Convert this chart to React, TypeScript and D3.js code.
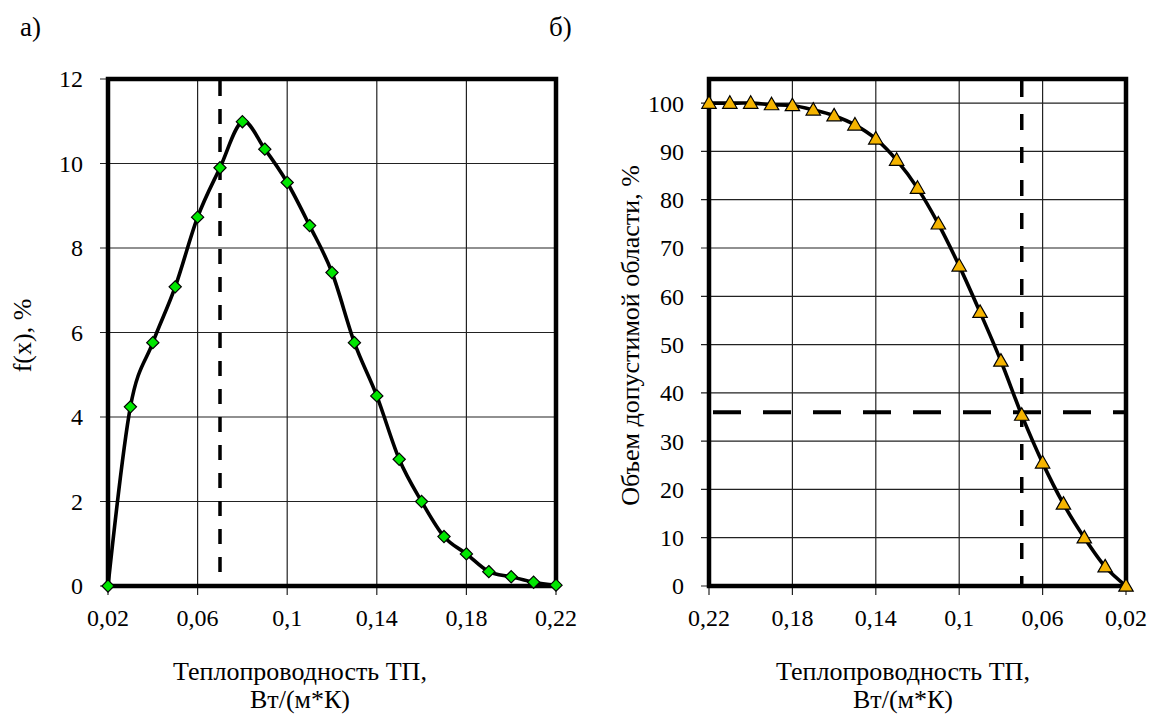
import { useRef, useEffect } from 'react'
import * as d3 from 'd3'

// а) distribution of thermal conductivity
const LEFT_X = [0.02, 0.03, 0.04, 0.05, 0.06, 0.07, 0.08, 0.09, 0.10, 0.11, 0.12, 0.13, 0.14, 0.15, 0.16, 0.17, 0.18, 0.19, 0.20, 0.21, 0.22]
const LEFT_F = [0, 4.24, 5.76, 7.08, 8.73, 9.9, 10.99, 10.34, 9.55, 8.53, 7.42, 5.76, 4.5, 3.0, 2.0, 1.17, 0.76, 0.34, 0.22, 0.09, 0.02]
const LEFT_Y_TICKS = [0, 2, 4, 6, 8, 10, 12]
const LEFT_MARK_X = 0.07

// б) admissible region volume
const RIGHT_X = [0.22, 0.21, 0.20, 0.19, 0.18, 0.17, 0.16, 0.15, 0.14, 0.13, 0.12, 0.11, 0.10, 0.09, 0.08, 0.07, 0.06, 0.05, 0.04, 0.03, 0.02]
const RIGHT_V = [100, 100, 100, 99.7, 99.5, 98.6, 97.4, 95.5, 92.6, 88.2, 82.4, 75.0, 66.3, 56.7, 46.6, 35.4, 25.5, 17.0, 10.0, 4.0, 0]
const RIGHT_Y_TICKS = [0, 10, 20, 30, 40, 50, 60, 70, 80, 90, 100]
const RIGHT_MARK_X = 0.07
const RIGHT_MARK_Y = 36

const X_TICKS = [0.02, 0.06, 0.1, 0.14, 0.18, 0.22]
const X_TITLE = ['Теплопроводность ТП,', 'Вт/(м*К)']

const FONT = '"Times New Roman", "Liberation Serif", "DejaVu Serif", serif'
const fmt = (v: number) => String(+v.toFixed(2)).replace('.', ',')

type Panel = {
  xs: number[]
  ys: number[]
  xDomain: [number, number]
  yDomain: [number, number]
  yTicks: number[]
  left: number
  right: number
  marker: 'diamond' | 'triangle'
  color: string
  yTitle: string
  yTitleX: number
  xTitleX: number
  vx: number
  hy?: number
  vDash: string
  label: string
  labelX: number
}

const TOP = 79
const BOTTOM = 586

function drawPanel(svg: d3.Selection<SVGSVGElement, unknown, null, undefined>, p: Panel) {
  const x = d3.scaleLinear().domain(p.xDomain).range([p.left, p.right])
  const y = d3.scaleLinear().domain(p.yDomain).range([BOTTOM, TOP])
  const g = svg.append('g').style('font-family', FONT)

  // grid
  g.selectAll('.gy').data(p.yTicks).join('line')
    .attr('x1', p.left - 8).attr('x2', p.right)
    .attr('y1', d => y(d)).attr('y2', d => y(d))
    .attr('stroke', '#222').attr('stroke-width', 1.2)
  g.selectAll('.gx').data(X_TICKS).join('line')
    .attr('x1', d => x(d)).attr('x2', d => x(d))
    .attr('y1', TOP).attr('y2', BOTTOM + 9)
    .attr('stroke', '#222').attr('stroke-width', 1.2)

  // dashed guides
  g.append('line')
    .attr('x1', x(p.vx)).attr('x2', x(p.vx)).attr('y1', TOP + 2).attr('y2', BOTTOM)
    .attr('stroke', '#000').attr('stroke-width', 3.5).attr('stroke-dasharray', p.vDash)
  if (p.hy !== undefined) {
    g.append('line')
      .attr('x1', p.left + 4).attr('x2', p.right).attr('y1', y(p.hy)).attr('y2', y(p.hy))
      .attr('stroke', '#000').attr('stroke-width', 4).attr('stroke-dasharray', '28 22')
  }

  // frame
  g.append('rect')
    .attr('x', p.left).attr('y', TOP).attr('width', p.right - p.left).attr('height', BOTTOM - TOP)
    .attr('fill', 'none').attr('stroke', '#000').attr('stroke-width', 4.5)

  // tick labels
  g.selectAll('.ty').data(p.yTicks).join('text')
    .attr('x', p.left - 25).attr('y', d => y(d)).attr('dy', '0.35em')
    .attr('text-anchor', 'end').style('font-size', '24px')
    .text(d => String(d))
  g.selectAll('.tx').data(X_TICKS).join('text')
    .attr('x', d => x(d)).attr('y', 618).attr('dy', '0.35em')
    .attr('text-anchor', 'middle').style('font-size', '24px')
    .text(d => fmt(d))

  // series
  const pts = p.xs.map((v, i) => [v, p.ys[i]] as [number, number])
  const line = d3.line<[number, number]>().x(d => x(d[0])).y(d => y(d[1])).curve(d3.curveCardinal.tension(0))
  g.append('path').attr('d', line(pts)).attr('fill', 'none').attr('stroke', '#000').attr('stroke-width', 3.6)

  const sym = p.marker === 'diamond'
    ? d3.symbol().type(d3.symbolDiamond2).size(95)
    : d3.symbol().type(d3.symbolTriangle).size(90)
  g.selectAll('.m').data(pts).join('path')
    .attr('d', sym)
    .attr('transform', d => `translate(${x(d[0])},${y(d[1]) + (p.marker === 'triangle' ? 1 : 0)})`)
    .attr('fill', p.color).attr('stroke', '#000').attr('stroke-width', 1.2)

  // titles
  g.append('text')
    .attr('transform', `translate(${p.yTitleX},${(TOP + BOTTOM) / 2 + 3}) rotate(-90)`)
    .attr('text-anchor', 'middle').attr('dy', '0.35em')
    .style('font-size', '26px')
    .text(p.yTitle)
  g.selectAll('.xt').data(X_TITLE).join('text')
    .attr('x', p.xTitleX).attr('y', (_, i) => 671 + i * 28).attr('dy', '0.35em')
    .attr('text-anchor', 'middle').style('font-size', '26px')
    .text(d => d)
  g.append('text')
    .attr('x', p.labelX).attr('y', 27).attr('dy', '0.35em')
    .style('font-size', '27px')
    .text(p.label)
}

export default function App() {
  const ref = useRef<SVGSVGElement>(null)

  useEffect(() => {
    if (!ref.current) return
    const svg = d3.select(ref.current)
    svg.selectAll('*').remove()
    drawPanel(svg, {
      xs: LEFT_X, ys: LEFT_F, xDomain: [0.02, 0.22], yDomain: [0, 12], yTicks: LEFT_Y_TICKS,
      left: 108, right: 556, marker: 'diamond', color: '#00e600',
      yTitle: 'f(x), %', yTitleX: 22, xTitleX: 300, vx: LEFT_MARK_X, vDash: '15 13',
      label: 'а)', labelX: 20,
    })
    drawPanel(svg, {
      xs: RIGHT_X, ys: RIGHT_V, xDomain: [0.22, 0.02], yDomain: [0, 105], yTicks: RIGHT_Y_TICKS,
      left: 709, right: 1126, marker: 'triangle', color: '#f5b400',
      yTitle: 'Объем допустимой области, %', yTitleX: 630, xTitleX: 903, vx: RIGHT_MARK_X,
      hy: RIGHT_MARK_Y, vDash: '16 17',
      label: 'б)', labelX: 549,
    })
  }, [])

  return (
    <div style={{ position: 'absolute', left: 0, top: 0, background: '#fff' }}>
      <svg ref={ref} width={1160} height={719} style={{ display: 'block' }} />
    </div>
  )
}
